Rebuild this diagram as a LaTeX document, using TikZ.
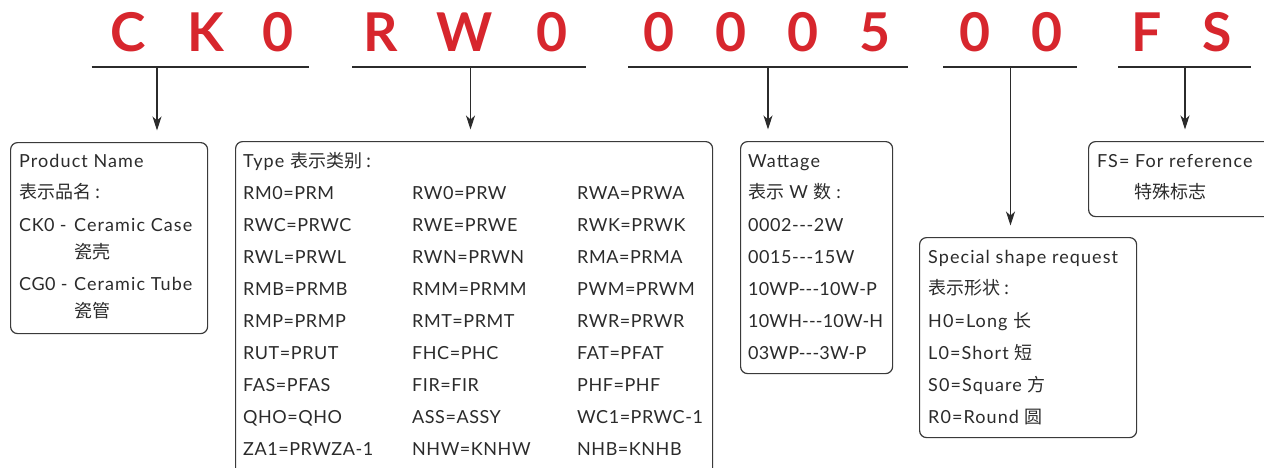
\documentclass[tikz,border=0pt]{standalone}
\usepackage{fontspec}
\setmainfont{Lato}[LetterSpace=3]
\newfontfamily\wide{Lato}[LetterSpace=6]
\newfontfamily\tight{Lato}[LetterSpace=1]
\newfontfamily\cjk{Noto Sans CJK SC}
\usetikzlibrary{arrows.meta}
\definecolor{codered}{HTML}{D7262D}
\definecolor{ink}{HTML}{2B2B2B}
\definecolor{frame}{HTML}{3A3A3A}
\begin{document}
\begin{tikzpicture}[x=1pt,y=-1pt,
  seg/.style={draw=ink,line width=1.1pt},
  arr/.style={draw=ink,line width=1.1pt,shorten >=11.5pt,-{Stealth[length=14pt,width=9pt,inset=4pt]}},
  box/.style={draw=frame,line width=1.2pt,rounded corners=7pt,inner sep=0pt,anchor=north west},
  lbl/.style={anchor=base west,inner sep=0pt,text=ink,font=\fontsize{18}{20}\selectfont},
  wlbl/.style={lbl,font=\fontsize{18}{20}\selectfont\wide},
  tlbl/.style={lbl,font=\fontsize{18}{20}\selectfont\tight},
  big/.style={anchor=base,inner sep=0pt,text=codered,font=\fontsize{53.5}{60}\selectfont\bfseries}]
\useasboundingbox (0,0) rectangle (1264,467);
\clip (0,0) rectangle (1264,467);

% red code letters
\node[big] (l1) at (128,51) {C};
\node[big] (l2) at (206,51) {K};
\node[big] (l3) at (278.5,51) {0};
\node[big] (l4) at (380.5,51) {R};
\node[big] (l5) at (465,51) {W};
\node[big] (l6) at (552.5,51) {0};
\node[big] (l7) at (659.5,51) {0};
\node[big] (l8) at (731,51) {0};
\node[big] (l9) at (803,51) {0};
\node[big] (l10) at (875,51) {5};
\node[big] (l11) at (975,51) {0};
\node[big] (l12) at (1047,51) {0};
\node[big] (l13) at (1147,51) {F};
\node[big] (l14) at (1217.5,51) {S};

% underline segments
\coordinate (a1) at (91.5,67); \coordinate (b1) at (309,67); \coordinate (s1) at (157,67);
\coordinate (a2) at (352,67); \coordinate (b2) at (586,67); \coordinate (s2) at (470.5,67);
\coordinate (a3) at (628,67); \coordinate (b3) at (908,67); \coordinate (s3) at (768,67);
\coordinate (a4) at (943,67); \coordinate (b4) at (1077,67); \coordinate (s4) at (1010.5,67);
\coordinate (a5) at (1118,67); \coordinate (b5) at (1251,67); \coordinate (s5) at (1185,67);
\foreach \i in {1,...,5} {\draw[seg] (a\i) -- (b\i);}

% boxes
\node[box,minimum width=197pt,minimum height=191pt] (pn) at (10,142) {};
\node[box,minimum width=477pt,minimum height=340pt] (tb) at (235,141) {};
\node[box,minimum width=152pt,minimum height=232pt] (wb) at (740,141) {};
\node[box,minimum width=217pt,minimum height=200pt] (sb) at (919,237) {};
\node[box,minimum width=200pt,minimum height=75pt] (fb) at (1088,141) {};

% arrows
\draw[arr] (s1) -- (s1 |- pn.north);
\draw[arr] (s2) -- (s2 |- tb.north);
\draw[arr] (s3) -- (s3 |- wb.north);
\draw[arr] (s4) -- (s4 |- sb.north);
\draw[arr] (s5) -- (s5 |- fb.north);

% product name box
\node[wlbl] (p1) at (19,167) {Product Name};
\node[lbl] (p2) at (19,198) {\cjk 表示品名 :};
\node[lbl] (p3) at (19,231) {CK0 -};
\node[wlbl] (p4) at (74,231) {Ceramic Case};
\node[lbl] (p5) at (74,258) {\cjk 瓷壳};
\node[lbl] (p6) at (19,290) {CG0 -};
\node[wlbl] (p7) at (74,290) {Ceramic Tube};
\node[lbl] (p8) at (74,317) {\cjk 瓷管};

% type box
\node[wlbl] (t0) at (243,167) {Type {\cjk 表示类别 :}};
\foreach \a/\b/\c [count=\k from 0] in {
  RM0=PRM/RW0=PRW/RWA=PRWA,
  RWC=PRWC/RWE=PRWE/RWK=PRWK,
  RWL=PRWL/RWN=PRWN/RMA=PRMA,
  RMB=PRMB/RMM=PRMM/PWM=PRWM,
  RMP=PRMP/RMT=PRMT/RWR=PRWR,
  RUT=PRUT/FHC=PHC/FAT=PFAT,
  FAS=PFAS/FIR=FIR/PHF=PHF,
  QHO=QHO/ASS=ASSY/WC1=PRWC-1,
  ZA1=PRWZA-1/NHW=KNHW/NHB=KNHB} {
  \node[lbl] (ta\k) at (243,199+32*\k) {\a};
  \node[lbl] (tb\k) at (412,199+32*\k) {\b};
  \node[lbl] (tc\k) at (577,199+32*\k) {\c};
}

% wattage box
\node[wlbl] (w1) at (748,167) {Wattage};
\node[lbl] (w2) at (748,198) {{\cjk 表示} W {\cjk 数} :};
\node[lbl] (w3) at (748,231) {0002-{}-{}-2W};
\node[lbl] (w4) at (748,263) {0015-{}-{}-15W};
\node[tlbl] (w5) at (748,295) {10WP-{}-{}-10W-P};
\node[tlbl] (w6) at (748,327) {10WH-{}-{}-10W-H};
\node[tlbl] (w7) at (748,359) {03WP-{}-{}-3W-P};

% special shape box
\node[wlbl] (x1) at (928,263) {Special shape request};
\node[lbl] (x2) at (928,294) {\cjk 表示形状 :};
\node[wlbl] (x3) at (928,327) {H0=Long {\cjk 长}};
\node[wlbl] (x4) at (928,359) {L0=Short {\cjk 短}};
\node[wlbl] (x5) at (928,391) {S0=Square {\cjk 方}};
\node[wlbl] (x6) at (928,423) {R0=Round {\cjk 圆}};

% FS box
\node[wlbl] (f1) at (1097,167) {FS= For reference};
\node[lbl] (f2) at (1134,198) {\cjk 特殊标志};
\end{tikzpicture}
\end{document}
